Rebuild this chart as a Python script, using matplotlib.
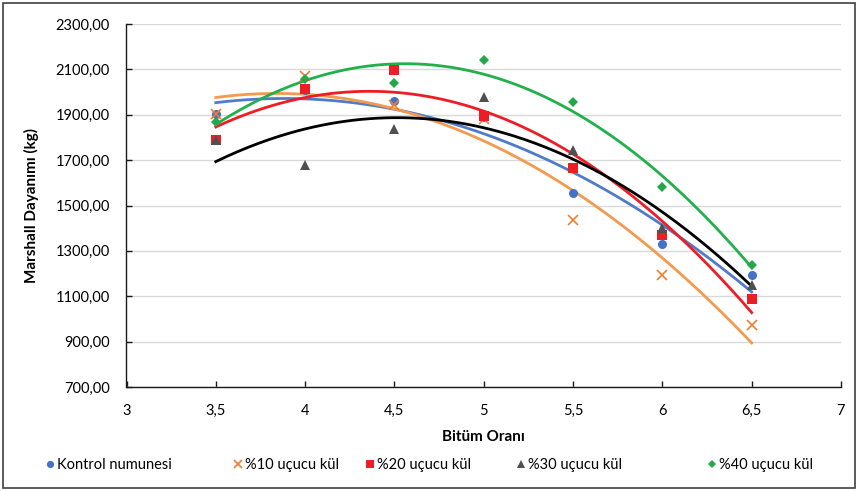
import numpy as np
import matplotlib
matplotlib.use("Agg")
import matplotlib.pyplot as plt
from matplotlib.ticker import FuncFormatter, FixedLocator
from matplotlib.patches import Rectangle

plt.rcParams['font.family'] = ['Lato', 'DejaVu Sans']

bitum = [3.5, 4.0, 4.5, 5.0, 5.5, 6.0, 6.5]
kontrol = [1904, 2010, 1959, 1890, 1556, 1330, 1194]
kul10 = [1905, 2070, 1944, 1880, 1437, 1194, 975]
kul20 = [1790, 2013, 2098, 1896, 1664, 1371, 1090]
kul30 = [1790, 1678, 1837, 1978, 1744, 1403, 1150]
kul40 = [1870, 2059, 2040, 2140, 1955, 1580, 1237]

x_ticks = [3, 3.5, 4, 4.5, 5, 5.5, 6, 6.5, 7]
y_ticks = [700, 900, 1100, 1300, 1500, 1700, 1900, 2100, 2300]

labels = ["Kontrol numunesi", "%10 uçucu kül", "%20 uçucu kül", "%30 uçucu kül", "%40 uçucu kül"]
series = [kontrol, kul10, kul20, kul30, kul40]
marker_colors = ["#4472C4", "#ED7D31", "#EE1C25", "#505050", "#22A84A"]
line_colors = ["#4F7BC8", "#F39A4F", "#EE1C25", "#000000", "#22B04B"]
markers = ["o", "x", "s", "^", "D"]
msizes = [6.5, 7, 6.5, 6.5, 5]

fig = plt.figure(figsize=(8.59, 4.91), dpi=100)
ax = fig.add_axes([126.5/859, 1-387/491, (841-126.5)/859, (387-24)/491])

x = np.array(bitum)
xs = np.linspace(x.min(), x.max(), 200)
handles = []
for ys, lc in zip(series, line_colors):
    coef = np.polyfit(x, np.array(ys, dtype=float), 2)
    ax.plot(xs, np.polyval(coef, xs), color=lc, lw=2.0, zorder=2)
for ys, lab, mc, mk, ms in zip(series, labels, marker_colors, markers, msizes):
    if mk == "x":
        h, = ax.plot(x, ys, linestyle="none", marker=mk, color=mc, markersize=ms,
                     markeredgewidth=1.2, label=lab, zorder=3)
    else:
        h, = ax.plot(x, ys, linestyle="none", marker=mk, color=mc, markersize=ms,
                     markeredgewidth=0, label=lab, zorder=3)
    handles.append(h)

ax.set_xlim(3, 7)
ax.set_ylim(700, 2300)
ax.xaxis.set_major_locator(FixedLocator(x_ticks))
ax.yaxis.set_major_locator(FixedLocator(y_ticks))
ax.xaxis.set_major_formatter(FuncFormatter(lambda v, p: ("%g" % v).replace(".", ",")))
ax.yaxis.set_major_formatter(FuncFormatter(lambda v, p: ("%.2f" % v).replace(".", ",")))
ax.grid(axis="y", color="#D9D9D9", lw=1.0)
ax.set_axisbelow(True)
for s in ["top", "right"]:
    ax.spines[s].set_visible(False)
for s in ["left", "bottom"]:
    ax.spines[s].set_color("#1a1a1a")
    ax.spines[s].set_linewidth(1.0)
ax.tick_params(axis="y", direction="in", length=4, width=1, labelsize=10.5,
               colors="#1a1a1a", labelcolor="#000000", pad=12)
ax.tick_params(axis="x", direction="in", length=4, width=1, labelsize=10.5,
               colors="#1a1a1a", labelcolor="#000000", pad=12)

ax.set_ylabel("Marshall Dayanımı (kg)", fontsize=11, fontweight="bold", labelpad=12)
ax.set_xlabel("Bitüm Oranı", fontsize=11, fontweight="bold", labelpad=9)

leg_x = [44, 232, 364, 515, 706]
for h, lab, lx in zip(handles, labels, leg_x):
    lg = fig.legend(handles=[h], labels=[lab], loc="center left",
                    bbox_to_anchor=(lx/859, 1-465/491), frameon=False, fontsize=10.5,
                    handletextpad=0.1, markerscale=0.8, handlelength=0.8,
                    borderpad=0, borderaxespad=0)

fig.patches.append(Rectangle((3/859, 3/491), 852/859, 485/491, transform=fig.transFigure,
                             fill=False, edgecolor="#404040", lw=1.2))

fig.savefig("out.png", dpi=100)
